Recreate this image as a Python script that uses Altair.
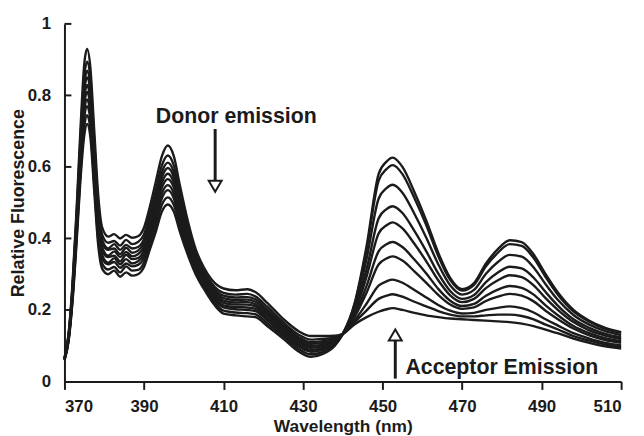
import altair as alt
import pandas as pd

# ---------------- data ----------------
wavelength = [370, 371, 372, 373, 374, 375, 375.7, 376.5, 377.5, 378.5,
              379.5, 381, 382.5, 384, 385.5, 387, 388.5,
              390, 391.5, 393, 394.5, 396, 397.5, 399,
              401, 403, 405, 407, 410, 413, 416, 418, 421, 425, 429, 432, 435, 438,
              440, 443, 446, 449, 451, 452.5, 455, 458, 461, 464, 467, 470,
              473, 476, 479, 482, 485, 488, 491, 494, 498, 502, 506, 510]

c0 = [0.06, 0.11, 0.22, 0.38, 0.56, 0.69, 0.72, 0.685, 0.53, 0.38,
      0.315, 0.30, 0.31, 0.293, 0.305, 0.296, 0.30,
      0.32, 0.37, 0.42, 0.475, 0.495, 0.475, 0.42,
      0.355, 0.30, 0.26, 0.225, 0.19, 0.185, 0.182, 0.18, 0.155, 0.12, 0.083, 0.069, 0.077, 0.10,
      0.133, 0.22, 0.38, 0.58, 0.615, 0.626, 0.60, 0.53, 0.45, 0.36, 0.29, 0.258,
      0.275, 0.33, 0.37, 0.395, 0.39, 0.355, 0.30, 0.25, 0.20, 0.17, 0.15, 0.138]
c1 = [0.061, 0.112, 0.226, 0.391, 0.577, 0.714, 0.745, 0.708, 0.55, 0.397,
      0.329, 0.313, 0.32, 0.305, 0.322, 0.31, 0.312,
      0.333, 0.384, 0.437, 0.494, 0.515, 0.494, 0.436,
      0.366, 0.308, 0.267, 0.232, 0.198, 0.193, 0.191, 0.188, 0.163, 0.127, 0.09, 0.076, 0.083, 0.103,
      0.133, 0.217, 0.37, 0.561, 0.594, 0.605, 0.58, 0.513, 0.437, 0.351, 0.284, 0.254,
      0.27, 0.322, 0.36, 0.384, 0.379, 0.345, 0.292, 0.244, 0.196, 0.167, 0.147, 0.136]
c2 = [0.061, 0.115, 0.232, 0.402, 0.594, 0.738, 0.77, 0.732, 0.571, 0.414,
      0.343, 0.328, 0.334, 0.318, 0.33, 0.322, 0.326,
      0.346, 0.399, 0.454, 0.512, 0.535, 0.512, 0.451,
      0.378, 0.317, 0.274, 0.239, 0.207, 0.202, 0.2, 0.197, 0.171, 0.133, 0.097, 0.083, 0.089, 0.107,
      0.133, 0.209, 0.344, 0.511, 0.541, 0.55, 0.528, 0.469, 0.402, 0.328, 0.269, 0.243,
      0.256, 0.301, 0.334, 0.354, 0.349, 0.319, 0.272, 0.229, 0.186, 0.159, 0.141, 0.13]
c3 = [0.062, 0.117, 0.237, 0.41, 0.606, 0.756, 0.789, 0.749, 0.586, 0.426,
      0.353, 0.332, 0.345, 0.328, 0.342, 0.33, 0.336,
      0.356, 0.41, 0.466, 0.526, 0.549, 0.526, 0.463,
      0.386, 0.323, 0.28, 0.245, 0.213, 0.208, 0.207, 0.203, 0.176, 0.138, 0.102, 0.088, 0.094, 0.109,
      0.133, 0.201, 0.315, 0.456, 0.482, 0.49, 0.471, 0.421, 0.364, 0.302, 0.253, 0.231,
      0.242, 0.278, 0.305, 0.321, 0.316, 0.29, 0.25, 0.213, 0.174, 0.15, 0.133, 0.123]
c4 = [0.062, 0.119, 0.242, 0.419, 0.62, 0.776, 0.81, 0.769, 0.603, 0.44,
      0.364, 0.348, 0.352, 0.336, 0.354, 0.342, 0.345,
      0.367, 0.422, 0.48, 0.542, 0.566, 0.542, 0.476,
      0.396, 0.33, 0.286, 0.251, 0.22, 0.215, 0.215, 0.21, 0.183, 0.144, 0.108, 0.094, 0.099, 0.112,
      0.133, 0.194, 0.294, 0.414, 0.437, 0.445, 0.428, 0.385, 0.336, 0.283, 0.241, 0.222,
      0.231, 0.261, 0.283, 0.297, 0.292, 0.269, 0.233, 0.201, 0.166, 0.143, 0.128, 0.118]
c5 = [0.063, 0.12, 0.246, 0.427, 0.633, 0.794, 0.829, 0.786, 0.618, 0.453,
      0.375, 0.352, 0.364, 0.348, 0.362, 0.35, 0.356,
      0.377, 0.432, 0.493, 0.556, 0.581, 0.556, 0.488,
      0.404, 0.336, 0.291, 0.256, 0.226, 0.221, 0.222, 0.216, 0.189, 0.149, 0.113, 0.099, 0.103, 0.115,
      0.133, 0.186, 0.268, 0.364, 0.384, 0.39, 0.376, 0.341, 0.302, 0.259, 0.226, 0.211,
      0.217, 0.24, 0.257, 0.267, 0.262, 0.243, 0.213, 0.186, 0.155, 0.135, 0.121, 0.112]
c6 = [0.063, 0.122, 0.251, 0.436, 0.647, 0.814, 0.85, 0.806, 0.635, 0.467,
      0.386, 0.368, 0.372, 0.356, 0.374, 0.36, 0.366,
      0.388, 0.444, 0.507, 0.571, 0.597, 0.571, 0.501,
      0.414, 0.343, 0.297, 0.262, 0.233, 0.228, 0.229, 0.223, 0.195, 0.154, 0.118, 0.105, 0.108, 0.117,
      0.133, 0.181, 0.249, 0.327, 0.344, 0.35, 0.338, 0.308, 0.276, 0.242, 0.215, 0.203,
      0.207, 0.225, 0.237, 0.245, 0.24, 0.224, 0.198, 0.175, 0.148, 0.129, 0.116, 0.108]
c7 = [0.064, 0.124, 0.256, 0.444, 0.659, 0.832, 0.869, 0.823, 0.651, 0.479,
      0.397, 0.372, 0.384, 0.368, 0.382, 0.372, 0.376,
      0.398, 0.455, 0.519, 0.585, 0.612, 0.585, 0.512,
      0.422, 0.35, 0.303, 0.268, 0.24, 0.235, 0.236, 0.23, 0.201, 0.159, 0.123, 0.11, 0.113, 0.12,
      0.133, 0.171, 0.218, 0.268, 0.28, 0.285, 0.276, 0.256, 0.235, 0.214, 0.198, 0.19,
      0.192, 0.2, 0.206, 0.21, 0.205, 0.193, 0.174, 0.157, 0.135, 0.12, 0.108, 0.101]
c8 = [0.064, 0.127, 0.262, 0.455, 0.676, 0.856, 0.894, 0.847, 0.671, 0.496,
      0.41, 0.388, 0.393, 0.38, 0.396, 0.384, 0.39,
      0.411, 0.47, 0.536, 0.604, 0.632, 0.604, 0.528,
      0.434, 0.358, 0.31, 0.275, 0.248, 0.243, 0.245, 0.238, 0.209, 0.166, 0.13, 0.117, 0.119, 0.123,
      0.133, 0.166, 0.199, 0.231, 0.24, 0.244, 0.237, 0.223, 0.21, 0.197, 0.187, 0.182,
      0.182, 0.185, 0.187, 0.187, 0.183, 0.174, 0.159, 0.146, 0.127, 0.114, 0.103, 0.096]
c9 = [0.065, 0.13, 0.27, 0.47, 0.70, 0.89, 0.93, 0.88, 0.70, 0.52,
      0.43, 0.405, 0.412, 0.40, 0.41, 0.402, 0.406,
      0.43, 0.49, 0.56, 0.63, 0.66, 0.63, 0.55,
      0.45, 0.37, 0.32, 0.285, 0.26, 0.255, 0.258, 0.25, 0.22, 0.175, 0.14, 0.127, 0.127, 0.128,
      0.133, 0.16, 0.18, 0.195, 0.202, 0.205, 0.2, 0.192, 0.185, 0.18, 0.176, 0.174,
      0.172, 0.17, 0.168, 0.166, 0.162, 0.155, 0.145, 0.135, 0.12, 0.108, 0.098, 0.092]

series = {"c0": c0, "c1": c1, "c2": c2, "c3": c3, "c4": c4,
          "c5": c5, "c6": c6, "c7": c7, "c8": c8, "c9": c9}

x_ticks = [370, 390, 410, 430, 450, 470, 490, 510]
y_ticks = [0, 0.2, 0.4, 0.6, 0.8, 1.0]

ann_text = ["Donor emission", "Acceptor Emission"]
ann_x = [413.2, 480.0]
ann_y = [0.723, 0.022]

arrow_x = [407.9, 453.2]
arrow_tail = [0.706, 0.008]
arrow_neck = [0.560, 0.125]
arrow_head_y = [0.546, 0.130]
arrow_shape = ["triangle-down", "triangle-up"]

# ---------------- build tables ----------------
rows = []
for name, vals in series.items():
    for w, v in zip(wavelength, vals):
        rows.append({"wl": w, "rf": v, "curve": name})
df = pd.DataFrame(rows)

ann_df = pd.DataFrame({"text": ann_text, "x": ann_x, "y": ann_y})
arrow_df = pd.DataFrame({"x": arrow_x, "y": arrow_tail, "y2": arrow_neck,
                         "hy": arrow_head_y, "shape": arrow_shape})
ytick_df = pd.DataFrame({"v": [t for t in y_ticks if t > 0]})

FONT = "Liberation Sans"
INK = "#1b1b1b"

x_scale = alt.Scale(domain=[370, 510], nice=False, zero=False)
y_scale = alt.Scale(domain=[0, 1], nice=False, zero=False)

lines = alt.Chart(df).mark_line(color=INK, strokeWidth=2.4, interpolate="monotone").encode(
    x=alt.X("wl:Q", scale=x_scale,
            axis=alt.Axis(values=x_ticks, title="Wavelength (nm)", format="d",
                          labelPadding=9, titlePadding=4, tickSize=8)),
    y=alt.Y("rf:Q", scale=y_scale,
            axis=alt.Axis(values=y_ticks, title="Relative Fluorescence", format="~g",
                          ticks=False, labelPadding=14, titlePadding=0,
                          titleFontSize=18)),
    detail="curve:N",
)

yticks = alt.Chart(ytick_df).mark_rule(color=INK, strokeWidth=2).encode(
    y=alt.Y("v:Q", scale=y_scale),
    x=alt.value(0),
    x2=alt.value(7),
)

shafts = alt.Chart(arrow_df).mark_rule(color=INK, strokeWidth=3).encode(
    x=alt.X("x:Q", scale=x_scale),
    y=alt.Y("y:Q", scale=y_scale),
    y2="y2:Q",
)

heads = alt.Chart(arrow_df).mark_point(filled=True, fill="white", stroke=INK,
                                       strokeWidth=2, size=170, opacity=1).encode(
    x=alt.X("x:Q", scale=x_scale),
    y=alt.Y("hy:Q", scale=y_scale),
    shape=alt.Shape("shape:N", scale=None),
)

labels = alt.Chart(ann_df).mark_text(font=FONT, fontWeight="bold", fontSize=21.5,
                                     color=INK, align="center", baseline="alphabetic").encode(
    x=alt.X("x:Q", scale=x_scale),
    y=alt.Y("y:Q", scale=y_scale),
    text="text:N",
)

chart = alt.layer(lines, yticks, shafts, heads, labels).properties(
    width=562, height=361,
    autosize=alt.AutoSizeParams(type="none"),
    padding={"left": 57, "top": 14, "right": 15, "bottom": 53},
).configure_view(stroke=None).configure_axis(
    grid=False,
    domainColor=INK, domainWidth=2,
    tickColor=INK, tickWidth=2,
    labelFont=FONT, labelFontSize=17, labelFontWeight="bold", labelColor=INK,
    titleFont=FONT, titleFontSize=17.5, titleFontWeight="bold", titleColor=INK,
)

chart.save("out.html", embed_options={"renderer": "svg", "actions": False})
